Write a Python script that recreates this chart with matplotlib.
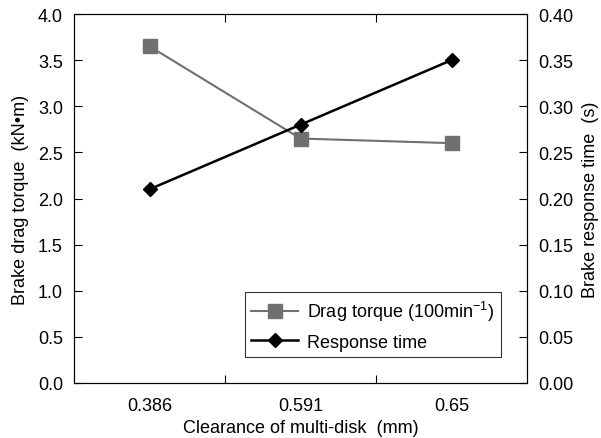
import matplotlib.pyplot as plt
from matplotlib.lines import Line2D

plt.rcParams["font.family"] = ["Liberation Sans", "DejaVu Sans"]

clearance = ["0.386", "0.591", "0.65"]
drag_torque = [3.65, 2.65, 2.60]
response_time = [0.210, 0.280, 0.350]

fig = plt.figure(figsize=(6.01, 4.39), dpi=100)
ax = fig.add_axes([74 / 601, 1 - 384 / 439, 453 / 601, 369 / 439])
ax2 = ax.twinx()

x = [i + 0.5 for i in range(len(clearance))]

gray = "#707070"
ax.plot(x, drag_torque, color=gray, marker="s", markersize=9.5, linewidth=1.5)
ax2.plot(x, response_time, color="black", marker="D", markersize=7.5, linewidth=1.8)

ax.set_xlim(0, 3)
ax.set_ylim(0, 4.0)
ax2.set_ylim(0, 0.40)
ax.set_xticks([1, 2])
ax.set_xticklabels([])
ax.set_xticks(x, minor=True)
ax.set_xticklabels(clearance, minor=True)
ax.tick_params(axis="x", which="minor", length=0, labelsize=13, pad=10)
ax.tick_params(axis="x", which="major", direction="in", length=6, top=True)

ax.set_yticks([i * 0.5 for i in range(9)])
ax.set_yticklabels([f"{i * 0.5:.1f}" for i in range(9)])
ax.tick_params(axis="y", direction="in", length=6, labelsize=13, pad=8)
ax2.set_yticks([i * 0.05 for i in range(9)])
ax2.set_yticklabels([f"{i * 0.05:.2f}" for i in range(9)])
ax2.tick_params(axis="y", direction="in", length=6, labelsize=13, pad=8)

ax.set_xlabel("Clearance of multi-disk  (mm)", fontsize=13, labelpad=4)
ax.set_ylabel("Brake drag torque  (kN\u2022m)", fontsize=13, labelpad=6)
ax2.set_ylabel("Brake response time  (s)", fontsize=13, labelpad=6)

handles = [
    Line2D([], [], color=gray, marker="s", markersize=9.5, linewidth=1.5),
    Line2D([], [], color="black", marker="D", markersize=7.5, linewidth=1.8),
]
leg = ax.legend(
    handles,
    ["Drag torque (100min$^{\\mathregular{-1}}$)", "Response time"],
    loc="lower left",
    bbox_to_anchor=(245 / 601, 1 - 358 / 439),
    bbox_transform=fig.transFigure,
    borderaxespad=0,
    fontsize=13,
    frameon=True,
    fancybox=False,
    edgecolor="black",
    borderpad=0.35,
    handlelength=2.6,
    handletextpad=0.5,
    labelspacing=0.6,
)
leg.get_frame().set_linewidth(0.8)

plt.savefig("out.png", dpi=100)
